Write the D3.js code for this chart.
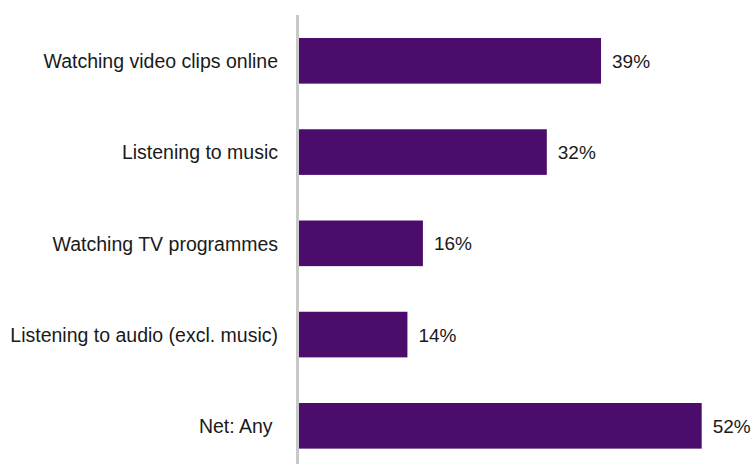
<!DOCTYPE html>
<html>
<head>
<meta charset="utf-8">
<script src="https://cdn.jsdelivr.net/npm/d3@7"></script>
<style>
  html, body { margin: 0; padding: 0; background: #ffffff; }
  svg { display: block; }
  text { font-family: "Liberation Sans", Arial, sans-serif; fill: #1a1a1a; white-space: pre; }
</style>
</head>
<body>
<svg id="chart" width="753" height="464"></svg>
<script>
// Share of respondents doing each activity
const categories = [
  "Watching video clips online",
  "Listening to music",
  "Watching TV programmes",
  "Listening to audio (excl. music)",
  "Net: Any "
];
const values = [39, 32, 16, 14, 52];

const width = 753, height = 464;
const svg = d3.select("#chart");

const x = d3.scaleLinear().domain([0, 60]).range([299, 299 + 7.744 * 60]);
const y = d3.scaleBand()
  .domain(categories)
  .range([15.2, 471.45])
  .paddingInner(0.5)
  .paddingOuter(0.25);

const data = categories.map((c, i) => ({ cat: c, val: values[i] }));

// bars
svg.append("g")
  .selectAll("rect")
  .data(data)
  .join("rect")
  .attr("x", x(0))
  .attr("y", d => y(d.cat))
  .attr("width", d => x(d.val) - x(0))
  .attr("height", y.bandwidth())
  .attr("fill", "#4b0c6b");

// vertical category axis line
svg.append("line")
  .attr("x1", 297.5).attr("x2", 297.5)
  .attr("y1", 15).attr("y2", height)
  .attr("stroke", "#c8c8c8")
  .attr("stroke-width", 3);

// category labels
svg.append("g")
  .selectAll("text")
  .data(data)
  .join("text")
  .attr("x", 278)
  .attr("y", d => y(d.cat) + y.bandwidth() / 2 + 0.5)
  .attr("dy", "0.35em")
  .attr("text-anchor", "end")
  .attr("font-size", 19.5)
  .text(d => d.cat);

// value labels
svg.append("g")
  .selectAll("text")
  .data(data)
  .join("text")
  .attr("x", d => x(d.val) + 11)
  .attr("y", d => y(d.cat) + y.bandwidth() / 2 + 0.5)
  .attr("dy", "0.35em")
  .attr("font-size", 19)
  .text(d => d.val + "%");
</script>
</body>
</html>
